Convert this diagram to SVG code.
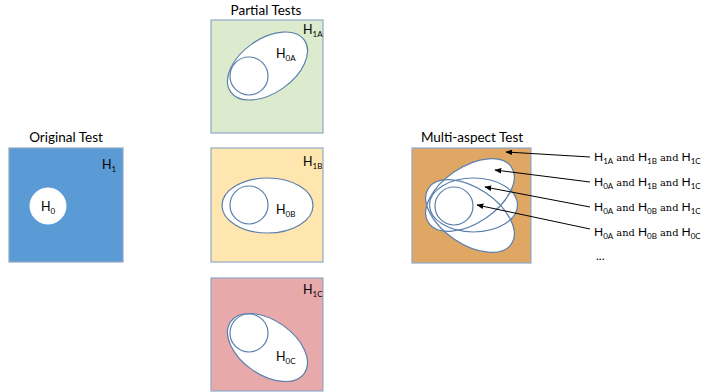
<svg xmlns="http://www.w3.org/2000/svg" width="703" height="392" viewBox="0 0 703 392">
<style>
.box{stroke:#8FA9C6;stroke-width:1.2}
.el{fill:#fff;stroke:#5B80AC;stroke-width:1.2}
.fo{fill:#fff;stroke:none}
.so{fill:none;stroke:#5B80AC;stroke-width:1.2}
.t{font-family:Lato,"Liberation Sans",sans-serif;font-size:13.5px;fill:#000}
.h{font-family:Lato,"Liberation Sans",sans-serif;font-size:12.5px;fill:#000}
.r{font-family:Lato,"Liberation Sans",sans-serif;font-size:12px;fill:#000}
.s{font-size:8px}
.and{font-family:"DejaVu Serif","Liberation Serif",serif;font-size:9.8px}
.ln{stroke:#000;stroke-width:1;fill:none;marker-end:url(#ah)}
</style>
<defs>
<marker id="ah" viewBox="0 0 10 10" refX="9" refY="5" markerWidth="7" markerHeight="7" orient="auto" markerUnits="userSpaceOnUse">
<path d="M0,1 L10,5 L0,9 z" fill="#000"/>
</marker>
<ellipse id="mA" cx="470" cy="195" rx="50" ry="28" transform="rotate(-34 470 195)"/>
<ellipse id="mC" cx="470" cy="216" rx="50" ry="28" transform="rotate(34 470 216)"/>
<ellipse id="mB" cx="473.5" cy="205" rx="44" ry="27"/>
</defs>
<rect width="703" height="392" fill="#fff"/>

<g id="original">
<text class="t" x="66" y="142" text-anchor="middle">Original Test</text>
<rect class="box" x="9" y="148" width="114" height="114" fill="#5B9BD5"/>
<text class="h" x="102" y="169">H<tspan class="s" dy="3">1</tspan></text>
<circle cx="48" cy="206" r="18" fill="#fff" stroke="#fff"/>
<text class="h" x="41" y="211">H<tspan class="s" dy="3">0</tspan></text>
</g>

<g id="partial-title">
<text class="t" x="266" y="15" text-anchor="middle">Partial Tests</text>
</g>

<g id="partialA">
<rect class="box" x="211" y="20" width="112" height="113" fill="#DCEBCD"/>
<ellipse class="el" cx="267.5" cy="66" rx="45" ry="27" transform="rotate(-35 267.5 66)"/>
<circle class="el" cx="249" cy="76" r="19"/>
<text class="h" x="303" y="34">H<tspan class="s" dy="3">1A</tspan></text>
<text class="h" x="276" y="58">H<tspan class="s" dy="3">0A</tspan></text>
</g>

<g id="partialB">
<rect class="box" x="211" y="148" width="112" height="114" fill="#FFE5AE"/>
<ellipse class="el" cx="267.5" cy="205.5" rx="45.5" ry="27.5"/>
<circle class="el" cx="249" cy="205" r="19"/>
<text class="h" x="303" y="166">H<tspan class="s" dy="3">1B</tspan></text>
<text class="h" x="276" y="214">H<tspan class="s" dy="3">0B</tspan></text>
</g>

<g id="partialC">
<rect class="box" x="211" y="278" width="112" height="113" fill="#E8A9AB"/>
<ellipse class="el" cx="267.5" cy="347.5" rx="45" ry="27" transform="rotate(35 267.5 347.5)"/>
<circle class="el" cx="249" cy="333" r="19"/>
<text class="h" x="303" y="294">H<tspan class="s" dy="3">1C</tspan></text>
<text class="h" x="276" y="361">H<tspan class="s" dy="3">0C</tspan></text>
</g>

<g id="multi">
<text class="t" x="472" y="142" text-anchor="middle">Multi-aspect Test</text>
<rect class="box" x="412" y="148" width="119" height="115" fill="#DFA664"/>
<use href="#mA" class="fo"/>
<use href="#mC" class="fo"/>
<use href="#mB" class="fo"/>
<use href="#mA" class="so"/>
<use href="#mC" class="so"/>
<use href="#mB" class="so"/>
<circle class="el" cx="454" cy="206" r="19"/>
</g>

<g id="connectors">
<line class="ln" x1="590" y1="157" x2="506" y2="152"/>
<line class="ln" x1="590" y1="182" x2="495" y2="170"/>
<line class="ln" x1="590" y1="207" x2="485" y2="187"/>
<line class="ln" x1="590" y1="229" x2="477" y2="205"/>
</g>

<g id="labels">
<text class="r" x="594" y="161">H<tspan class="s" dy="3">1A</tspan><tspan class="and" dy="-3"> and </tspan>H<tspan class="s" dy="3">1B</tspan><tspan class="and" dy="-3"> and </tspan>H<tspan class="s" dy="3">1C</tspan></text>
<text class="r" x="594" y="186">H<tspan class="s" dy="3">0A</tspan><tspan class="and" dy="-3"> and </tspan>H<tspan class="s" dy="3">1B</tspan><tspan class="and" dy="-3"> and </tspan>H<tspan class="s" dy="3">1C</tspan></text>
<text class="r" x="594" y="211">H<tspan class="s" dy="3">0A</tspan><tspan class="and" dy="-3"> and </tspan>H<tspan class="s" dy="3">0B</tspan><tspan class="and" dy="-3"> and </tspan>H<tspan class="s" dy="3">1C</tspan></text>
<text class="r" x="594" y="236">H<tspan class="s" dy="3">0A</tspan><tspan class="and" dy="-3"> and </tspan>H<tspan class="s" dy="3">0B</tspan><tspan class="and" dy="-3"> and </tspan>H<tspan class="s" dy="3">0C</tspan></text>
<text class="r" x="596" y="260">...</text>
</g>
</svg>
